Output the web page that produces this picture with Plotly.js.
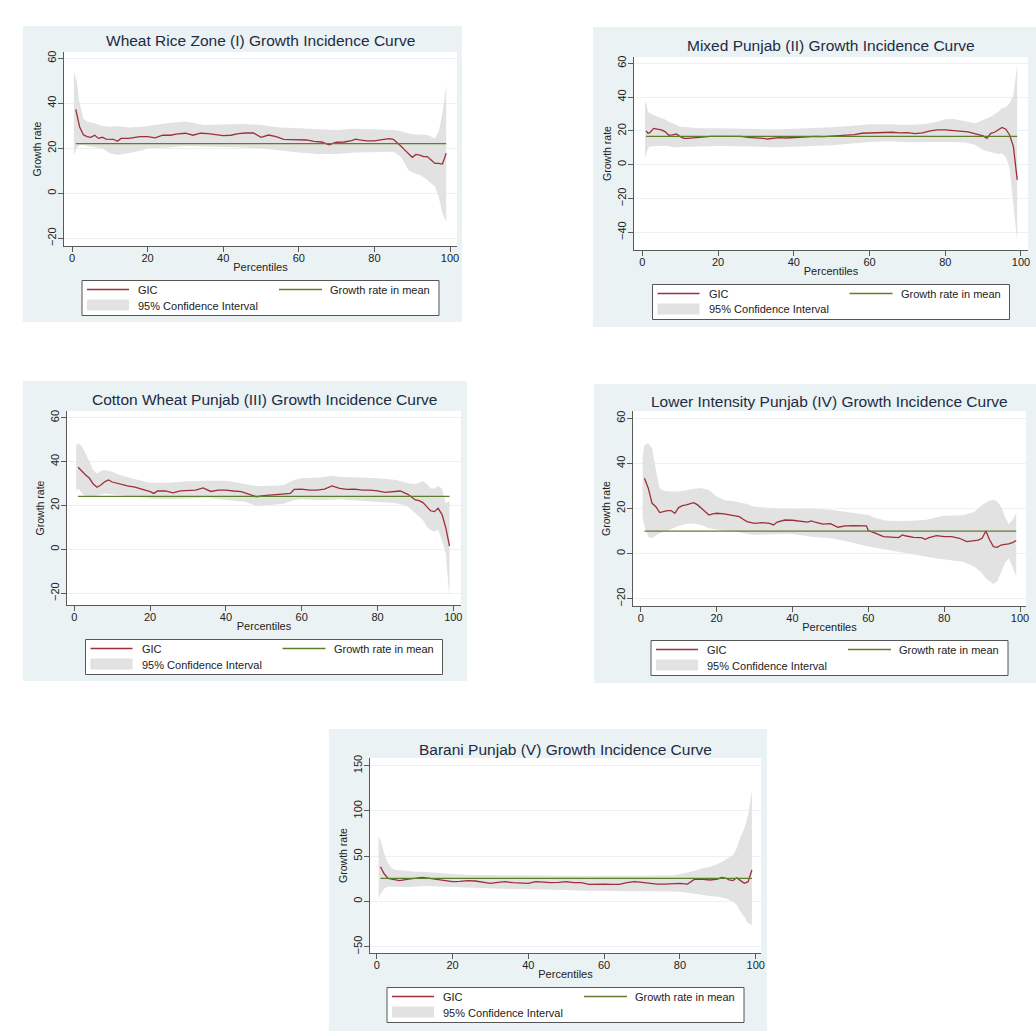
<!DOCTYPE html>
<html><head><meta charset="utf-8">
<script src="https://cdn.plot.ly/plotly-3.0.1.min.js"></script>
<style>html,body{margin:0;padding:0;background:#fff}#chart{width:1036px;height:1035px}</style>
</head><body><div id="chart"></div>
<script>
// ---------------- DATA ----------------
const xTickVals = [0, 20, 40, 60, 80, 100];
const yTicksA = [-20, 0, 20, 40, 60];
const yTicksB = [-40, -20, 0, 20, 40, 60];
const yTicksC = [-50, 0, 50, 100, 150];
const legendNames = ["GIC", "Growth rate in mean", "95% Confidence Interval"];
const panelTitles = [
  "Wheat Rice Zone (I) Growth Incidence Curve",
  "Mixed Punjab (II) Growth Incidence Curve",
  "Cotton Wheat Punjab (III) Growth Incidence Curve",
  "Lower Intensity Punjab (IV) Growth Incidence Curve",
  "Barani Punjab (V) Growth Incidence Curve"
];

// Panel I: Wheat Rice Zone
const wr_gic_x = [1,2,3,4,5,6,7,8,9,10,11,12,13,15,18,20,22,24,26,28,30,32,34,36,38,40,42,44,46,48,50,52,54,56,58,60,62,64,66,68,70,72,74,75,76,78,80,82,84,85,86,87,88,89,90,91,92,93,94,95,96,97,98,99];
const wr_gic = [37.3,29.6,26.0,25.2,24.9,25.8,24.4,24.9,24.1,24.0,24.0,23.1,24.4,24.4,25.2,25.2,24.6,25.8,25.8,26.4,26.7,25.8,26.7,26.5,26.1,25.6,25.8,26.5,26.8,26.8,24.9,25.9,25.2,24.0,23.9,23.9,23.7,23.1,22.8,21.6,22.7,22.8,23.4,24.1,23.7,23.3,23.3,23.9,24.3,24.0,22.7,21.0,19.3,17.8,16.0,17.3,17.0,16.3,16.3,14.8,13.3,13.3,13.0,17.8];
const wr_ci_x = [0.5,1.2,2,3,4,5,6,8,10,12,15,18,20,25,30,35,40,45,50,55,60,65,70,75,80,85,87,88,89,90,92,94,95,96,97,98,99];
const wr_ci_hi = [54,50.4,40,33.3,31.9,31.5,31.1,29.9,29.6,29.9,29.3,29.6,29.9,31.1,31.9,30.4,30.7,30.8,30.4,29.3,28.9,28.4,28.1,28.7,28.4,28.1,27.6,27.0,26.6,26.2,25.9,25.9,25.2,24.4,27.4,35.6,48.0];
const wr_ci_lo = [17,20,21.5,21.5,21,20.7,20.5,20,17.8,17,17.8,18.8,20,20.4,21,21,20.7,20.4,20,19,18.1,17.5,17.5,18.1,18.4,18.5,16.3,13.3,10.4,9.2,8.1,5.9,4.4,3,-1.5,-8.9,-12.6];
const wr_mean = 22.1;

// Panel II: Mixed Punjab
const mp_gic_x = [1,1.5,2,3,4,5,6,7,8,9,10,11,12,14,16,18,20,22,24,26,28,30,32,33,34,36,38,40,42,44,46,48,50,52,54,56,58,60,62,64,66,68,70,72,74,76,78,80,82,84,86,88,90,91,92,93,94,95,96,97,98,99];
const mp_gic = [20,18.6,19,21.5,21,20.6,19.6,17.4,17.6,18.2,16.6,15.6,15.6,16,16.8,16.8,16.8,16.8,16.6,16.8,16.2,16,15.6,15.2,15.6,16,15.8,16,16.6,16.8,16.8,16.6,16.8,17,17.2,17.8,18.6,18.8,19,19.2,19.2,18.8,19,18.4,18.8,20,20.6,20.6,20.2,20.2,19.4,18.2,17,15.6,18.6,19.2,20.6,22,21,17.6,10.7,-9];
const mp_ci_x = [0.7,1,1.5,2,3,4,5,6,7,8,10,12,15,20,25,30,35,40,45,50,55,60,65,70,75,78,80,82,85,88,90,92,94,95,96,97,98,99];
const mp_ci_hi = [37.3,36.3,31.4,30.4,29.4,28.6,27.8,26.8,25.5,24.5,22.5,22.1,21.5,21.5,21.5,21.1,20.9,21.3,21.5,22.1,22.9,23.9,23.9,23.5,24.1,25.5,26.9,27.1,25.9,24.5,26.5,28.4,31.4,33.4,34,36.3,41.3,59];
const mp_ci_lo = [3.8,6.7,9.7,10.7,11,11.1,11.2,11.3,11,10.3,10.3,10.5,10.7,11.1,11.1,10.7,10.3,10.7,11.1,11.5,12.3,13.5,13.9,13.3,13.5,13.6,13.6,13.5,13.3,11.7,8.7,7.7,6.4,6.7,4.4,-2.1,-22.8,-45.5];
const mp_mean = 16.8;

// Panel III: Cotton Wheat Punjab
const cw_gic_x = [1,2,3,4,5,6,7,8,9,10,12,14,16,18,20,21,22,24,26,28,30,32,34,36,38,40,42,44,46,48,50,52,54,56,57,58,60,62,64,66,68,70,72,74,76,78,80,82,84,86,88,89,90,91,92,93,94,95,96,97,98,99];
const cw_gic = [37.4,35.4,33.9,32.4,29.8,28.3,29.3,30.8,31.6,30.7,29.8,28.9,28.4,27.5,26.3,25.5,26.6,26.7,25.8,26.7,26.9,27,28,26.4,27,27,26.6,26.3,25.2,24,24.5,24.8,24.9,25.2,25.5,27.3,27.5,27,27,27.5,28.9,27.8,27.3,27.5,27,27,26.7,26,26.4,26.6,25.1,24,22.5,22.2,21.3,19.5,17.6,17.2,18.7,16,10,1.5];
const cw_ci_x = [0.5,1,2,3,4,5,6,7,8,10,12,15,20,25,30,35,40,45,48,50,55,58,60,65,68,70,75,80,85,88,90,92,93,94,95,96,97,98,99];
const cw_ci_hi = [47.5,48.3,47.1,43.8,40,36.2,34.6,35.7,36.2,35.4,33.9,32.4,30.4,30.4,31.1,31.3,31.3,29.8,28.9,28.9,29.2,31.6,32.4,32.8,33.6,33.1,32.8,32.4,31.6,30.1,29.8,31.1,29.8,27.8,27.8,28.9,27.8,21,22];
const cw_ci_lo = [26.3,27.8,25.5,24.3,24.1,24,24.5,25,25.5,25.2,24.8,24.3,23.2,22.8,23.2,23.7,22.5,21.7,19.8,19.9,20.7,22.5,22.8,22.5,22.6,22.8,22.2,21.7,21,19.5,16.4,13.4,10.3,8.8,8.1,8.8,4.3,-1.8,-22.3];
const cw_mean = 24.2;

// Panel IV: Lower Intensity Punjab
const li_gic_x = [1,2,3,4,5,6,7,8,9,10,11,12,13,14,15,16,17,18,19,20,22,24,26,27,28,30,32,34,35,36,38,40,42,44,45,46,48,50,52,54,56,58,59.5,60,61,62,64,66,68,69,70,72,74,75,76,78,80,82,84,86,88,89,90,91,92,93,94,95,96,97,98,99];
const li_gic = [33.4,29,22.3,20.8,18.2,18.6,19.1,19.1,17.9,20.4,21.3,21.6,22,22.6,21.6,20.1,18.6,17.1,17.6,17.9,17.6,17.1,16.4,15.2,14.2,13.4,13.7,13.4,12.7,14,14.9,14.8,14.3,14,14.5,13.9,13.1,13.3,11.7,12.3,12.4,12.4,12.3,10.2,9.7,9,7.5,7.2,7.1,8.3,7.8,7.2,7.1,6.3,7.1,8,7.5,7.5,6.8,5.3,5.8,6,6.8,10,6,3.1,2.8,3.8,4.1,4.3,4.9,5.8];
const li_ci_x = [0.5,1,2,3,4,5,6,8,10,12,14,15,16,18,20,22,25,28,30,35,40,45,50,55,60,62,65,70,75,78,80,85,88,90,91,92,93,94,95,96,97,98,99];
const li_ci_hi = [43,48.2,48.9,46.7,37.1,29,27.9,27.5,27.5,28.2,28.6,29,29,28.2,25.3,23.8,23.1,22,20.8,20.1,19.8,19.9,19.4,18.2,17.1,15.7,14.6,14.5,14.9,16.1,16.8,17,18.6,21.6,22.6,23.5,23.8,23.1,20.8,16.4,13,14.9,17.9];
const li_ci_lo = [16.4,12,7.5,6.8,8,9,9.7,10.8,12.3,13.1,13.4,13.2,12.7,11.2,10.5,10.1,9.7,8.8,8.3,8.6,8.7,7.5,6.8,5.3,3.1,2.5,1.6,0.1,-1.3,-2.2,-2.8,-3.6,-5.8,-8.7,-11,-12.4,-13.5,-12.4,-8.7,-4.3,-2.1,-5.8,-10.2];
const li_mean = 10;

// Panel V: Barani Punjab
const bp_gic_x = [1,2,3,5,6,8,10,12,14,16,18,20,22,24,26,28,30,32,34,36,38,40,42,44,46,48,50,52,54,56,58,60,62,64,66,68,70,72,74,76,78,80,82,83,84,86,88,90,91,92,93,94,95,96,97,98,99];
const bp_gic = [38.4,30.3,25.5,23.7,23,24.4,25.1,26.6,25.5,24.4,23,21.8,22.2,23,22.6,21.1,20,21.1,21.8,20.7,20,20,21.8,21.1,20.7,21.1,21.8,20.7,20.7,18.9,19.2,19.2,18.9,18.9,20.7,21.8,21.1,20,19.2,19.2,20,20,19.2,21.8,24.8,24.4,23.7,24.8,26.6,25.9,23.7,23,26.2,23,20,21.8,34.7];
const bp_ci_x = [0.5,1,2,3,4,5,8,10,12,15,20,25,30,35,40,45,50,55,60,65,70,75,78,80,82,84,86,88,90,92,94,95,96,97,98,99];
const bp_ci_hi = [71.5,67.9,53.1,42.1,36.6,34.7,34,32.9,32.9,31.8,30.3,29.2,29.2,28.8,28.5,28.8,28.5,28.1,28.1,28.1,28.1,28.5,28.8,30.3,31.8,34,36.6,38.4,41.3,45.8,51.3,58.7,71.5,80.8,95.5,123];
const bp_ci_lo = [3.3,8.1,14.4,16.3,16.3,16.3,15.6,16.3,17,16.3,15.6,15.2,14.4,13.7,13.4,13.4,12.6,11.9,11.1,11.1,11.1,11.1,11,10.8,9.7,8.2,7.1,6,5.2,3.4,-0.3,-4,-11.3,-16.9,-24.2,-26.1];
const bp_mean = 25.5;

// ---------------- LAYOUT GEOMETRY (pixels) ----------------
const W = 1036, H = 1035;
const C_BG = "#eaf2f3", C_GIC = "#9e2f3a", C_MEAN = "#5f7d2c", C_CI = "#e2e2e2";
const C_AX = "#5a5a5a", C_TXT = "#222222", C_TITLE = "#1e2b44";
const FONT = "Liberation Sans, Arial, sans-serif";

const series = [
  {gx: wr_gic_x, g: wr_gic, cx: wr_ci_x, hi: wr_ci_hi, lo: wr_ci_lo, mean: wr_mean, yt: yTicksA},
  {gx: mp_gic_x, g: mp_gic, cx: mp_ci_x, hi: mp_ci_hi, lo: mp_ci_lo, mean: mp_mean, yt: yTicksB},
  {gx: cw_gic_x, g: cw_gic, cx: cw_ci_x, hi: cw_ci_hi, lo: cw_ci_lo, mean: cw_mean, yt: yTicksA},
  {gx: li_gic_x, g: li_gic, cx: li_ci_x, hi: li_ci_hi, lo: li_ci_lo, mean: li_mean, yt: yTicksA},
  {gx: bp_gic_x, g: bp_gic, cx: bp_ci_x, hi: bp_ci_hi, lo: bp_ci_lo, mean: bp_mean, yt: yTicksC}
];
const geo = [
  {bg: [23, 26, 462, 322], pl: [64, 52, 457, 246], xr: [-2.12, 101.85], yr: [-23.42, 62.8], ty: 40.7},
  {bg: [593, 27, 1036, 327], pl: [634, 57, 1028, 250], xr: [-2.19, 101.85], yr: [-50.47, 63.73], ty: 46},
  {bg: [23, 381, 467, 681], pl: [67, 411, 461, 605], xr: [-1.93, 102.03], yr: [-25.33, 63.05], ty: 400},
  {bg: [594, 384, 1036, 683], pl: [633, 411, 1026, 606], xr: [-2.03, 101.58], yr: [-23.24, 63.24], ty: 401},
  {bg: [329, 729, 767, 1031], pl: [370, 758, 761, 953], xr: [-1.77, 101.4], yr: [-56.96, 158.5], ty: 749.3}
];

const px = v => v / W;
const py = v => 1 - v / H;

const traces = [];
const layout = {
  width: W, height: H,
  margin: {l: 0, r: 0, t: 0, b: 0, pad: 0},
  paper_bgcolor: "#ffffff",
  plot_bgcolor: "rgba(0,0,0,0)",
  showlegend: false,
  font: {family: FONT, color: C_TXT},
  shapes: [], annotations: []
};

series.forEach((s, i) => {
  const n = i === 0 ? "" : String(i + 1);
  const g = geo[i];
  const xa = "x" + n, ya = "y" + n;
  // CI band
  traces.push({
    type: "scatter", mode: "lines", xaxis: xa, yaxis: ya,
    x: s.cx.concat(s.cx.slice().reverse()),
    y: s.hi.concat(s.lo.slice().reverse()),
    fill: "toself", fillcolor: C_CI, line: {width: 0, color: C_CI},
    hoverinfo: "skip", name: legendNames[2]
  });
  // GIC
  traces.push({
    type: "scatter", mode: "lines", xaxis: xa, yaxis: ya,
    x: s.gx, y: s.g, line: {color: C_GIC, width: 1.3}, name: legendNames[0]
  });
  // mean
  traces.push({
    type: "scatter", mode: "lines", xaxis: xa, yaxis: ya,
    x: [s.gx[0], s.gx[s.gx.length - 1]], y: [s.mean, s.mean],
    line: {color: C_MEAN, width: 1.3}, name: legendNames[1]
  });

  layout["xaxis" + n] = {
    domain: [px(g.pl[0]), px(g.pl[2])], range: g.xr, anchor: ya,
    showline: true, linecolor: C_AX, linewidth: 1,
    ticks: "outside", ticklen: 5, tickcolor: C_AX, tickwidth: 1,
    tickvals: xTickVals, tickfont: {size: 11, color: C_TXT}, ticklabelstandoff: -3,
    showgrid: false, zeroline: false, fixedrange: true,
    title: {text: "Percentiles", font: {size: 11, color: C_TXT}, standoff: 0}
  };
  layout["yaxis" + n] = {
    domain: [py(g.pl[3]), py(g.pl[1])], range: g.yr, anchor: xa,
    showline: true, linecolor: C_AX, linewidth: 1,
    ticks: "outside", ticklen: 5, tickcolor: C_AX, tickwidth: 1,
    tickvals: s.yt, tickangle: -90, tickfont: {size: 11, color: C_TXT}, ticklabelstandoff: -2,
    showgrid: true, gridcolor: C_BG, gridwidth: 1, zeroline: false, fixedrange: true,
    title: {text: "Growth rate", font: {size: 10.5, color: C_TXT}, standoff: 1}
  };

  // panel background and white plot region
  layout.shapes.push({type: "rect", xref: "paper", yref: "paper", layer: "below",
    x0: px(g.bg[0]), x1: px(g.bg[2]), y0: py(g.bg[3]), y1: py(g.bg[1]),
    fillcolor: C_BG, line: {width: 0}});
  layout.shapes.push({type: "rect", xref: "paper", yref: "paper", layer: "below",
    x0: px(g.pl[0]), x1: px(g.pl[2]), y0: py(g.pl[3]), y1: py(g.pl[1]),
    fillcolor: "#ffffff", line: {width: 0}});

  // panel title
  const cxp = (g.pl[0] + g.pl[2]) / 2;
  layout.annotations.push({xref: "paper", yref: "paper", x: px(cxp), y: py(g.ty),
    xanchor: "center", yanchor: "middle", showarrow: false, text: panelTitles[i],
    font: {size: 15.5, color: C_TITLE, family: FONT}});

  // legend box
  const bw = 357, bh = 35;
  const bl = cxp - bw / 2, bt = g.pl[3] + 34.5;
  layout.shapes.push({type: "rect", xref: "paper", yref: "paper", layer: "above",
    x0: px(bl), x1: px(bl + bw), y0: py(bt + bh), y1: py(bt),
    fillcolor: "#ffffff", line: {color: "#555555", width: 1}});
  layout.shapes.push({type: "line", xref: "paper", yref: "paper", layer: "above",
    x0: px(bl + 5), x1: px(bl + 47), y0: py(bt + 9), y1: py(bt + 9),
    line: {color: C_GIC, width: 1.3}});
  layout.shapes.push({type: "line", xref: "paper", yref: "paper", layer: "above",
    x0: px(bl + 197), x1: px(bl + 240), y0: py(bt + 9), y1: py(bt + 9),
    line: {color: C_MEAN, width: 1.3}});
  layout.shapes.push({type: "rect", xref: "paper", yref: "paper", layer: "above",
    x0: px(bl + 5), x1: px(bl + 47), y0: py(bt + 30), y1: py(bt + 19),
    fillcolor: C_CI, line: {width: 0}});
  const lt = [[legendNames[0], bl + 54, bt + 9.5], [legendNames[1], bl + 246, bt + 9.5], [legendNames[2], bl + 54, bt + 25]];
  lt.forEach(([t, x, y]) => layout.annotations.push({xref: "paper", yref: "paper",
    x: px(x), y: py(y), xanchor: "left", yanchor: "middle", showarrow: false, text: t,
    font: {size: 11, color: C_TXT, family: FONT}}));
});

Plotly.newPlot("chart", traces, layout, {staticPlot: true, displayModeBar: false});
</script>
</body></html>
